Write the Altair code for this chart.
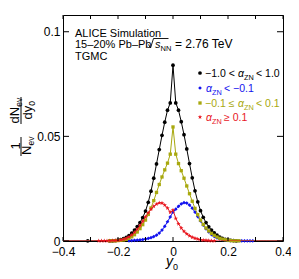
import altair as alt
import pandas as pd

# ---------------- data ----------------
y0_centers = [-0.40, -0.39, -0.38, -0.37, -0.36, -0.35, -0.34, -0.33, -0.32, -0.31,
              -0.30, -0.29, -0.28, -0.27, -0.26, -0.25, -0.24, -0.23, -0.22, -0.21,
              -0.20, -0.19, -0.18, -0.17, -0.16, -0.15, -0.14, -0.13, -0.12, -0.11,
              -0.10, -0.09, -0.08, -0.07, -0.06, -0.05, -0.04, -0.03, -0.02, -0.01,
              0.00, 0.01, 0.02, 0.03, 0.04, 0.05, 0.06, 0.07, 0.08, 0.09,
              0.10, 0.11, 0.12, 0.13, 0.14, 0.15, 0.16, 0.17, 0.18, 0.19,
              0.20, 0.21, 0.22, 0.23, 0.24, 0.25, 0.26, 0.27, 0.28, 0.29,
              0.30, 0.31, 0.32, 0.33, 0.34, 0.35, 0.36, 0.37, 0.38, 0.39, 0.40]

# -1.0 < alpha_ZN < 1.0
all_events = [0, 0, 0, 0, 0, 0, 0, 0, 0, 0.0001,
              0, 0, 0, 0, 0, 0, 0, 0.0001, 0.0001, 0.0002,
              0.0004, 0.0007, 0.0011, 0.0017, 0.0026, 0.0038, 0.0052, 0.0069, 0.0088, 0.0112,
              0.0143, 0.0185, 0.0238, 0.0300, 0.0368, 0.0437, 0.0505, 0.0568, 0.0625, 0.0660,
              0.0840, 0.0660, 0.0625, 0.0570, 0.0508, 0.0440, 0.0370, 0.0302, 0.0240, 0.0187,
              0.0145, 0.0113, 0.0088, 0.0068, 0.0052, 0.0039, 0.0028, 0.0019, 0.0012, 0.0008,
              0.0005, 0.0003, 0.0002, 0.0001, 0, 0, 0, 0, 0, 0,
              0, 0, 0, 0, 0, 0, 0, 0, 0, 0, 0]

# alpha_ZN < -0.1
alpha_neg = [0, 0, 0, 0, 0, 0, 0, 0, 0, 0,
             0, 0, 0, 0, 0, 0, 0, 0, 0, 0,
             0, 0, 0, 0, 0.0001, 0.0002, 0.0003, 0.0004, 0.0005, 0.0007,
             0.0009, 0.0012, 0.0016, 0.0021, 0.0028, 0.0038, 0.0052, 0.0070, 0.0092, 0.0115,
             0.0138, 0.0152, 0.0166, 0.0177, 0.0183, 0.0181, 0.0172, 0.0157, 0.0138, 0.0117,
             0.0096, 0.0076, 0.0058, 0.0043, 0.0031, 0.0022, 0.0015, 0.0010, 0.0007, 0.0005,
             0.0003, 0.0002, 0.0002, 0.0001, 0.0001, 0.0001, 0.0001, 0.0001, 0.0001, 0.0001,
             0, 0, 0, 0, 0, 0, 0, 0, 0, 0, 0]

# -0.1 <= alpha_ZN < 0.1
alpha_mid = [0, 0, 0, 0, 0, 0, 0, 0, 0, 0,
             0, 0, 0, 0, 0, 0, 0, 0.0001, 0.0001, 0.0001,
             0.0002, 0.0003, 0.0005, 0.0008, 0.0013, 0.0020, 0.0030, 0.0043, 0.0059, 0.0078,
             0.0100, 0.0127, 0.0158, 0.0193, 0.0232, 0.0270, 0.0306, 0.0340, 0.0372, 0.0415,
             0.0545, 0.0415, 0.0370, 0.0336, 0.0300, 0.0263, 0.0226, 0.0190, 0.0156, 0.0126,
             0.0100, 0.0079, 0.0062, 0.0048, 0.0036, 0.0027, 0.0019, 0.0013, 0.0009, 0.0006,
             0.0004, 0.0002, 0.0001, 0.0001, 0.0001, 0, 0, 0, 0, 0,
             0, 0, 0, 0, 0, 0, 0, 0, 0, 0, 0]

# alpha_ZN >= 0.1
alpha_pos = [0, 0, 0, 0, 0, 0, 0, 0, 0, 0,
             0, 0, 0, 0.0001, 0.0001, 0.0001, 0.0001, 0.0001, 0.0002, 0.0002,
             0.0003, 0.0005, 0.0008, 0.0013, 0.0020, 0.0029, 0.0041, 0.0056, 0.0074, 0.0094,
             0.0115, 0.0135, 0.0152, 0.0166, 0.0176, 0.0182, 0.0181, 0.0172, 0.0157, 0.0137,
             0.0148, 0.0108, 0.0082, 0.0062, 0.0046, 0.0034, 0.0025, 0.0018, 0.0013, 0.0009,
             0.0006, 0.0004, 0.0003, 0.0002, 0.0001, 0.0001, 0, 0, 0, 0,
             0, 0, 0, 0, 0, 0, 0, 0, 0, 0,
             0, 0, 0, 0, 0, 0, 0, 0, 0, 0, 0]

series_keys = ["all", "neg", "mid", "pos"]
series_colors = ["#000000", "#1212ee", "#a8a80e", "#e8161e"]
STAR = "M0,-1L0.24,-0.33L0.95,-0.31L0.38,0.12L0.59,0.81L0,0.4L-0.59,0.81L-0.38,0.12L-0.95,-0.31L-0.24,-0.33Z"
series_shapes = ["circle", "diamond", "square", STAR]
series_sizes = [14, 14, 11, 22]

x_tick_marks = [-0.4, -0.3, -0.2, -0.1, 0.0, 0.1, 0.2, 0.3, 0.4]
x_tick_labels = [-0.4, -0.2, 0.0, 0.2, 0.4]
y_tick_marks = [0.0, 0.05, 0.1]

# ---------------- layout ----------------
W, H = 220, 226
PX, PY = 63, 15          # page position of the plot origin
FONT = "Liberation Sans"

series_values = [all_events, alpha_neg, alpha_mid, alpha_pos]
rows = []
for key, vals in zip(series_keys, series_values):
    for x, v in zip(y0_centers, vals):
        rows.append({"y0": x, "v": v, "s": key})
df = pd.DataFrame(rows)

xs = alt.Scale(domain=[-0.4, 0.4], nice=False, zero=False)
ys = alt.Scale(domain=[0, 0.108], nice=False, zero=False)

x_axis = alt.Axis(values=x_tick_labels, format="~g", ticks=False, tickSize=0, domain=False,
                  grid=False, labelFontSize=12, labelPadding=5, labelFont=FONT,
                  labelColor="black", labelFlush=False, labelOverlap=False, title=None)
y_axis = alt.Axis(values=y_tick_marks, format="~g", ticks=False, tickSize=0, domain=False,
                  grid=False, labelFontSize=12, labelPadding=3, labelFont=FONT,
                  labelColor="black", labelFlush=False, labelOverlap=False, title=None)

layers = []
for i, key in enumerate(series_keys):
    base = alt.Chart(df).transform_filter(alt.datum.s == key)
    line = base.mark_line(color=series_colors[i], strokeWidth=1, clip=True).encode(
        x=alt.X("y0:Q", scale=xs, axis=x_axis),
        y=alt.Y("v:Q", scale=ys, axis=y_axis),
        order="y0:Q",
    )
    pts = base.transform_filter(alt.datum.v > 0).mark_point(
        shape=series_shapes[i], filled=True, color=series_colors[i],
        size=series_sizes[i], opacity=1, strokeWidth=0
    ).encode(
        x=alt.X("y0:Q", scale=xs, axis=x_axis),
        y=alt.Y("v:Q", scale=ys, axis=y_axis),
    )
    layers += [line, pts]

# inside ticks on all four sides
xt = pd.DataFrame({"t": x_tick_marks})
yt = pd.DataFrame({"t": y_tick_marks})
layers.append(alt.Chart(xt).mark_rule(color="black", strokeWidth=1).encode(
    x=alt.X("t:Q", scale=xs, axis=x_axis), y=alt.value(H), y2=alt.value(H - 4)))
layers.append(alt.Chart(xt).mark_rule(color="black", strokeWidth=1).encode(
    x=alt.X("t:Q", scale=xs, axis=x_axis), y=alt.value(0), y2=alt.value(4)))
layers.append(alt.Chart(yt).mark_rule(color="black", strokeWidth=1).encode(
    y=alt.Y("t:Q", scale=ys, axis=y_axis), x=alt.value(0), x2=alt.value(6)))
layers.append(alt.Chart(yt).mark_rule(color="black", strokeWidth=1).encode(
    y=alt.Y("t:Q", scale=ys, axis=y_axis), x=alt.value(W), x2=alt.value(W - 6)))

one = pd.DataFrame({"a": [0]})


def txt(s, x, y, size=11, color="black", style="normal", align="left",
        baseline="alphabetic", angle=0, font=FONT):
    return alt.Chart(one).mark_text(
        text=s, fontSize=size, color=color, fontStyle=style, align=align,
        baseline=baseline, angle=angle, font=font
    ).encode(x=alt.value(x - PX), y=alt.value(y - PY))


def seg(x1, y1, x2, y2, color="black", w=1):
    return alt.Chart(one).mark_rule(color=color, strokeWidth=w).encode(
        x=alt.value(x1 - PX), x2=alt.value(x2 - PX),
        y=alt.value(y1 - PY), y2=alt.value(y2 - PY))


# header text
layers += [
    txt("ALICE Simulation", 75, 37),
    txt("15–20% Pb–Pb", 75, 48),
    seg(148.5, 44.5, 150.5, 48, w=0.9),
    seg(150.5, 48, 153.5, 38.5, w=0.9),
    seg(153.5, 38.5, 168.5, 38.5, w=0.9),
    txt("s", 155, 48, style="italic"),
    txt("NN", 160.5, 51, size=7.5),
    txt("= 2.76 TeV", 175, 48, size=12),
    txt("TGMC", 75, 60),
]

# legend
LX = 200
legend_rows = [73, 88, 103, 117]
for i, yy in enumerate(legend_rows):
    layers.append(alt.Chart(one).mark_point(
        shape=series_shapes[i], filled=True, color=series_colors[i],
        size=series_sizes[i], opacity=1, strokeWidth=0
    ).encode(x=alt.value(LX - PX), y=alt.value(yy - PY)))

LS = 10.5
SUB = 7.3
c = series_colors
layers += [
    txt("−1.0 <", 205, 77, size=LS, color=c[0]),
    txt("α", 238, 77, size=LS, color=c[0], style="italic"),
    txt("ZN", 244, 80, size=SUB, color=c[0]),
    txt("< 1.0", 256, 77, size=LS, color=c[0]),
    txt("α", 206, 92, size=LS, color=c[1], style="italic"),
    txt("ZN", 212, 95, size=SUB, color=c[1]),
    txt("< −0.1", 224, 92, size=LS, color=c[1]),
    txt("−0.1 ≤", 205, 107, size=LS, color=c[2]),
    txt("α", 238, 107, size=LS, color=c[2], style="italic"),
    txt("ZN", 244, 110, size=SUB, color=c[2]),
    txt("< 0.1", 256, 107, size=LS, color=c[2]),
    txt("α", 206, 121, size=LS, color=c[3], style="italic"),
    txt("ZN", 212, 124, size=SUB, color=c[3]),
    txt("≥ 0.1", 224, 121, size=LS, color=c[3]),
]

# x title: y_0
layers += [
    txt("y", 166, 266, size=14, style="italic"),
    txt("0", 173, 270, size=9),
]

# y title: 1/N_ev  dN_ev/dy_0 (rotated, reads bottom to top)
DX = 4
R = 270
layers += [
    txt("1", 15.5 + DX, 146, size=13, align="center", angle=R),
    seg(17 + DX, 137, 17 + DX, 156),
    txt("N", 27 + DX, 155, size=13, angle=R),
    txt("ev", 29.5 + DX, 145.5, size=8.5, angle=R),
    txt("dN", 15 + DX, 123.5, size=13, angle=R),
    txt("ev", 17.5 + DX, 106.8, size=8.5, angle=R),
    seg(17 + DX, 97, 17 + DX, 124),
    txt("dy", 28 + DX, 119.5, size=13, angle=R),
    txt("0", 31 + DX, 105.8, size=8.5, angle=R),
]

chart = alt.layer(*layers).properties(
    width=W, height=H,
    autosize=alt.AutoSizeParams(type="none"),
    padding={"left": PX - 8, "top": PY - 8, "right": 8, "bottom": 30},
    background="white",
).configure_view(stroke="black", strokeWidth=1)

chart.save("out.html", embed_options={"renderer": "svg", "actions": False})
